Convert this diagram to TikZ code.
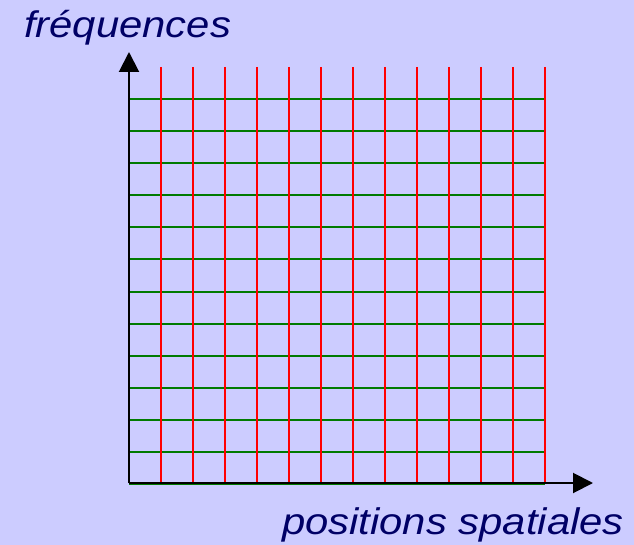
\documentclass[tikz,border=0pt]{standalone}
\usepackage{fontspec}
\setmainfont{Liberation Sans}
\usetikzlibrary{arrows.meta}
\definecolor{bgcol}{HTML}{CCCCFF}
\definecolor{txtcol}{HTML}{000066}
\definecolor{gridred}{HTML}{FF0000}
\definecolor{gridgreen}{HTML}{007A00}
\begin{document}
\begin{tikzpicture}[x=1pt,y=-1pt,
  redline/.style={draw=gridred,line width=2pt},
  greenline/.style={draw=gridgreen,line width=2pt},
  axisline/.style={draw=black,line width=2pt,-{Triangle[length=20pt,width=20pt]}},
  axislabel/.style={text=txtcol,font=\fontsize{37}{44}\selectfont\itshape,inner sep=0pt}]
\fill[bgcol] (0,0) rectangle (634,545);
\useasboundingbox (0,0) rectangle (634,545);
\foreach \j in {0,...,12} {
  \draw[greenline] (129,99.5+32*\j) -- (545,99.5+32*\j);
}
\foreach \i in {0,...,12} {
  \draw[redline] (161+32*\i,67) -- (161+32*\i,483);
}
\coordinate (o) at (129,483);
\coordinate (ytip) at (129,52);
\coordinate (xtip) at (593,483);
\draw[axisline] (o) -- (ytip);
\draw[axisline] (o) -- (xtip);
\node[axislabel,anchor=base west] (ylab) at (24,38) {\scalebox{1.13}[1]{fréquences}};
\node[axislabel,anchor=base east] (xlab) at (624,534) {\scalebox{1.13}[1]{positions spatiales}};
\end{tikzpicture}
\end{document}
